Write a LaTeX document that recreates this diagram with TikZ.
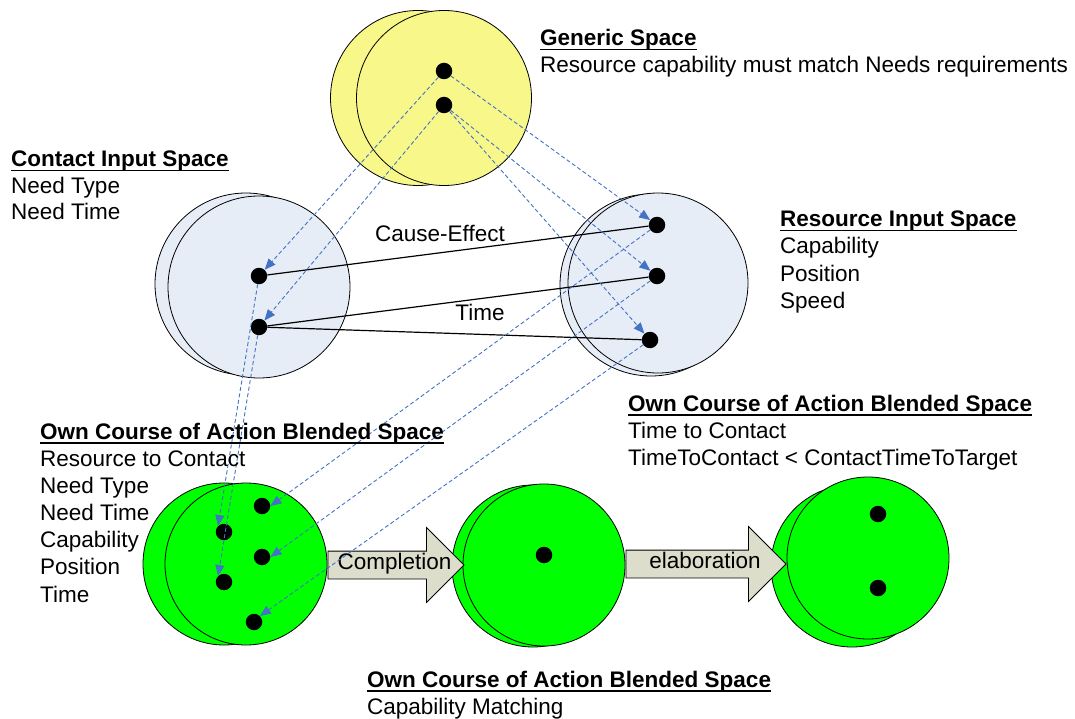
\documentclass[tikz,border=0pt]{standalone}
\usepackage{fontspec}
\setmainfont{Liberation Sans}
\usetikzlibrary{arrows.meta,shapes.arrows,positioning}
\definecolor{genyellow}{RGB}{247,247,138}
\definecolor{inputblue}{RGB}{231,237,247}
\definecolor{blendgreen}{RGB}{0,255,0}
\definecolor{arrowgray}{RGB}{221,221,204}
\definecolor{mapblue}{RGB}{68,114,196}
\newcommand\spacetitle[1]{\setbox0\hbox{\bfseries #1}\rlap{\rule[-4.5pt]{\wd0}{1.5pt}}\box0}
\tikzset{
  space/.style={draw, circle, line width=0.8pt, inner sep=0pt},
  dot/.style={circle, fill=black, inner sep=0pt, minimum size=16.5pt},
  mapping/.style={draw=mapblue, dash pattern=on 4pt off 2.5pt, line width=0.9pt, -{Triangle[length=11pt,width=9pt]}},
  relation/.style={draw, line width=1.2pt},
  txt/.style={anchor=base west, inner sep=0pt},
  process/.style={single arrow, draw, line width=0.8pt, fill=arrowgray, single arrow head extend=23.5pt,
    text height=14pt, text depth=5pt, inner ysep=4pt, inner xsep=0pt}
}
\begin{document}
\begin{tikzpicture}[x=1pt, y=-1pt, font=\fontsize{22.5}{27}\selectfont]
\useasboundingbox (0,0) rectangle (1075,719);

% generic space
\node[space, fill=genyellow, minimum size=175pt] (gen back) at (418,98) {};
\node[space, fill=genyellow, minimum size=175pt] (gen) at (444,98) {};
\node[dot] (g1) at (444,71) {};
\node[dot] (g2) at (444,105) {};

% contact input space
\node[space, fill=inputblue, minimum size=182pt] (con back) at (246,284) {};
\node[space, fill=inputblue, minimum size=182pt] (con) at (259,287) {};
\node[dot] (c1) at (259,276) {};
\node[dot] (c2) at (259,327) {};

% resource input space
\node[space, fill=inputblue, minimum size=182pt] (res back) at (651,285) {};
\node[space, fill=inputblue, minimum size=180pt] (res) at (658,283) {};
\node[dot] (r1) at (657,225) {};
\node[dot] (r2) at (657,276) {};
\node[dot] (r3) at (650,340) {};

% blended spaces
\node[space, fill=blendgreen, minimum size=162pt] (own back) at (224,564) {};
\node[space, fill=blendgreen, minimum size=162pt] (own) at (246,564) {};
\node[dot] (b1) at (262,506) {};
\node[dot] (b2) at (224,532) {};
\node[dot] (b3) at (262,557) {};
\node[dot] (b4) at (224,582) {};
\node[dot] (b5) at (254,622) {};
\node[space, fill=blendgreen, minimum size=162pt] (match back) at (533,566) {};
\node[space, fill=blendgreen, minimum size=162pt] (match) at (544,565) {};
\node[dot] (m1) at (544,555) {};
\node[space, fill=blendgreen, minimum size=162pt] (time back) at (852,566) {};
\node[space, fill=blendgreen, minimum size=162pt] (time) at (868,558) {};
\node[dot] (t1) at (878,514) {};
\node[dot] (t2) at (878,588) {};

% completion and elaboration
\node[process, minimum height=136pt] (completion) at (389,565) {\kern5.5pt Completion\kern-5.5pt};
\node[process, minimum height=160pt] (elaboration) at (699,564) {\kern6pt elaboration\kern-6pt};

% cause-effect and time relations
\draw[relation] (c1) -- (r1);
\draw[relation] (c2) -- (r2);
\draw[relation] (c2) -- (r3);
\node (cause) at (440,233) {Cause-Effect};
\node (timerel) at (480,312) {Time};

% mappings
\draw[mapping] (g1) -- (c1);
\draw[mapping] (g2) -- (c2);
\draw[mapping] (g1) -- (r1);
\draw[mapping] (g2) -- (r2);
\draw[mapping] (g2) -- (r3);
\draw[mapping] (c1) -- (b2.north west);
\draw[mapping] (c2) -- (b4.north west);
\draw[mapping] (r1) -- (b1.east);
\draw[mapping] (r2) -- (b3.east);
\draw[mapping] (r3) -- (b5.north east);

% texts
\node[txt] (gen title) at (540,46) {\spacetitle{Generic Space}};
\node[txt] (gen line) at (540,73) {Resource capability must match Needs requirements};
\node[txt] (con title) at (11,167) {\spacetitle{Contact Input Space}};
\foreach \line [count=\i] in {Need Type, Need Time}
  \node[txt] (con line\i) at (11,167+26.5*\i) {\line};
\node[txt] (res title) at (780,227) {\spacetitle{Resource Input Space}};
\foreach \line [count=\i] in {Capability, Position, Speed}
  \node[txt] (res line\i) at (780,227+27*\i) {\line};
\node[txt] (own title) at (40,439) {\spacetitle{Own Course of Action Blended Space}};
\foreach \line [count=\i] in {Resource to Contact, Need Type, Need Time, Capability, Position, Time}
  \node[txt] (own line\i) at (40,438.8+27.2*\i) {\line};
\node[txt] (time title) at (628,411) {\spacetitle{Own Course of Action Blended Space}};
\foreach \line [count=\i] in {Time to Contact, TimeToContact < ContactTimeToTarget}
  \node[txt] (time line\i) at (628,411+27*\i) {\line};
\node[txt] (match title) at (367,687) {\spacetitle{Own Course of Action Blended Space}};
\node[txt] (match line) at (367,714) {Capability Matching};
\end{tikzpicture}
\end{document}
